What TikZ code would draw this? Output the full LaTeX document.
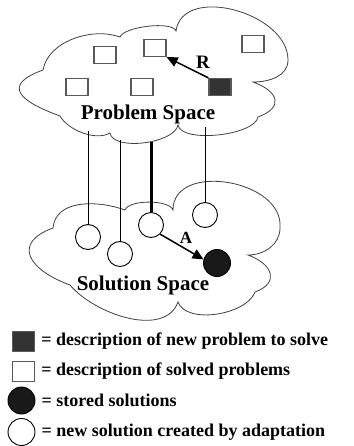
\documentclass[tikz,border=0pt]{standalone}
\usepackage{fontspec}
\setmainfont{Liberation Serif}
\usetikzlibrary{arrows.meta,positioning}

\begin{document}
\begin{tikzpicture}
[x=1pt, y=1pt, yscale=-1, font=\bfseries,
% STYLES
cloudline/.style={draw=black!75, line width=0.8pt},
solved/.style={rectangle, draw=black!65, line width=1.2pt, fill=white, minimum width=22pt, minimum height=17pt, inner sep=0pt},
newprob/.style={solved, fill=black!80},
newsol/.style={circle, draw, line width=0.9pt, fill=white, minimum size=25pt, inner sep=0pt},
storedsol/.style={newsol, fill=black!90},
link/.style={line width=1pt},
reuse/.style={line width=1.5pt, -{Triangle[length=11pt,width=10pt]}},
spacename/.style={font=\fontsize{21}{21}\selectfont\bfseries, anchor=base},
arrowname/.style={font=\fontsize{19}{19}\selectfont\bfseries, inner sep=0pt},
legtext/.style={font=\fontsize{18}{18}\selectfont\bfseries, inner sep=0pt}]

\useasboundingbox (0,0) rectangle (353,446);

% Problem space cloud
\draw[cloudline] (60,116) to[out=200, in=160, looseness=2.3] (43,70)
  to[out=280, in=200, looseness=0.9] (120,37)
  to[out=290, in=250, looseness=0.5] (176,31)
  to[out=278, in=270, looseness=1.05] (288,60)
  to[out=90, in=0, looseness=1] (253,82)
  to[out=20, in=340, looseness=2] (258,117)
  to[out=100, in=80, looseness=0.6] (178,125)
  to[out=100, in=80, looseness=0.7] (110,133)
  to[out=150, in=60, looseness=0.8] cycle;

% Solution space cloud
\draw[cloudline] (70,285) to[out=200, in=160, looseness=1.9] (53,228)
  to[out=275, in=200, looseness=1] (125,210)
  to[out=290, in=250, looseness=0.6] (173,210)
  to[out=270, in=275, looseness=1.15] (280,228)
  to[out=90, in=0, looseness=1] (248,255)
  to[out=20, in=340, looseness=1.8] (255,292)
  to[out=110, in=70, looseness=0.8] (178,302)
  to[out=110, in=50, looseness=0.9] cycle;

% problems
\node [solved] (sq1) at (105,55) {};
\node [solved] (sq2) at (155,48) {};
\node [solved] (sq3) at (253,44) {};
\node [solved] (sq4) at (77,87) {};
\node [solved] (sq5) at (142,87) {};
\node [newprob] (np) at (220,87) {};
\node [spacename] (probspace) at (148,120) {Problem Space};

% solutions
\node [newsol] (sol1) at (88,237) {};
\node [newsol] (sol2) at (120,254) {};
\node [newsol] (sol3) at (151,225) {};
\node [newsol] (sol4) at (205,215) {};
\node [storedsol, minimum size=27pt] (stored) at (217,263) {};
\node [spacename] (solspace) at (143,290) {Solution Space};

% links problem -> solution
\coordinate (top1) at (88,131);
\coordinate (top2) at (120,140);
\coordinate (top3) at (151,142);
\coordinate (top4) at (205,127);
\draw[link] (top1) -- (sol1.north);
\draw[link] (top2) -- (sol2.north);
\draw[link, line width=3pt] (top3) -- (sol3.north);
\draw[link] (top4) -- (sol4.north);

\draw[reuse] (np.north west) -- (sq2.south east);
\node [arrowname] (rlabel) at (203,62) {R};
\draw[reuse] (sol3.south east) -- (stored.165);
\node [arrowname, font=\fontsize{17}{17}\selectfont\bfseries] (alabel) at (186,238) {A};

% legend
\node [newprob, minimum height=20pt] (lg1) at (23.5,341.5) {};
\node [solved, minimum height=20pt] (lg2) at (23.5,371.5) {};
\node [storedsol, minimum size=27pt] (lg3) at (21.5,400.5) {};
\node [newsol, minimum size=27pt] (lg4) at (21.5,432) {};
\node [legtext, right=6pt of lg1] (leg1) {= description of new problem to solve};
\node [legtext, right=6pt of lg2] (leg2) {= description of solved problems};
\node [legtext, right=6pt of lg3] (leg3) {= stored solutions};
\node [legtext, right=6pt of lg4] (leg4) {= new solution created by adaptation};

\end{tikzpicture}
\end{document}
